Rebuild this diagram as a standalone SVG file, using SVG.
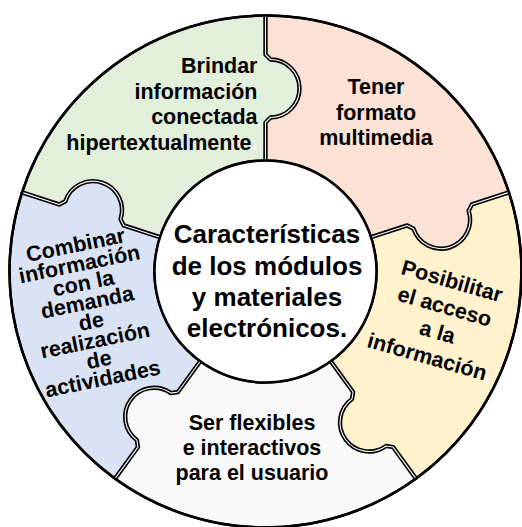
<svg xmlns="http://www.w3.org/2000/svg" width="522" height="527" viewBox="0 0 522 527">
<style>
.piece{stroke:#000;stroke-width:2.5;stroke-linejoin:round}
.seam-b{fill:none;stroke:#000;stroke-width:4.4;stroke-linejoin:round}
.seam-w{fill:none;stroke:#fff;stroke-width:1.1;stroke-linejoin:round}
.t{font-family:"Liberation Sans",Arial,sans-serif;font-weight:bold;fill:#000;font-size:21.5px}
.c{font-size:26px}
.m{text-anchor:middle}
.e{text-anchor:end}
</style>
<rect width="522" height="527" fill="#fff"/>
<g id="green">
<path class="piece" fill="#E2EFDA" d="M265.5,160.5 L265.5,122.5 L270.5,117.5 A29,29 0 0 0 270.5,59.5 L265.5,54.5 L265.5,15.5 A256,256 0 0 0 22.03,192.39 L59.12,204.44 L65.42,201.23 A29,29 0 0 1 120.58,219.16 L123.79,225.46 L159.93,237.2 A111,111 0 0 1 265.5,160.5 Z"/>
<text class="t e" x="257.5"><tspan x="257.5" y="73">Brindar</tspan><tspan x="257.5" y="98.5">información</tspan><tspan x="257.5" y="124">conectada</tspan><tspan x="257.5" y="149.5">hipertextualmente<tspan fill="#fff">.</tspan></tspan></text>
</g>
<g id="pink">
<path class="piece" fill="#FBE2D5" d="M371.07,237.2 L407.21,225.46 L413.51,228.67 A29,29 0 0 0 468.67,210.74 L471.88,204.44 L508.97,192.39 A256,256 0 0 0 265.5,15.5 L265.5,54.5 L270.5,59.5 A29,29 0 0 1 270.5,117.5 L265.5,122.5 L265.5,160.5 A111,111 0 0 1 371.07,237.2 Z"/>
<text class="t m"><tspan x="376" y="94">Tener</tspan><tspan x="376" y="119.5">formato</tspan><tspan x="376" y="145">multimedia</tspan></text>
</g>
<g id="yellow">
<path class="piece" fill="#FFF2CC" d="M330.74,361.3 L353.08,392.04 L351.97,399.03 A29,29 0 0 0 386.07,445.95 L393.05,447.06 L415.97,478.61 A256,256 0 0 0 508.97,192.39 L471.88,204.44 L468.67,210.74 A29,29 0 0 1 413.51,228.67 L407.21,225.46 L371.07,237.2 A111,111 0 0 1 330.74,361.3 Z"/>
<text class="t m" transform="rotate(16 450 288)"><tspan x="450" y="288">Posibilitar</tspan><tspan x="450" y="314.5">el acceso</tspan><tspan x="450" y="341">a la</tspan><tspan x="450" y="367.5">información<tspan fill="#fff">.</tspan></tspan></text>
</g>
<g id="white">
<path class="piece" fill="#F9F9F9" d="M200.26,361.3 L177.92,392.04 L170.94,393.15 A29,29 0 0 0 136.85,440.07 L137.95,447.06 L115.03,478.61 A256,256 0 0 0 415.97,478.61 L393.05,447.06 L386.07,445.95 A29,29 0 0 1 351.97,399.03 L353.08,392.04 L330.74,361.3 A111,111 0 0 1 200.26,361.3 Z"/>
<text class="t m"><tspan x="252" y="430">Ser flexibles</tspan><tspan x="252" y="455">e interactivos</tspan><tspan x="252" y="480">para el usuario</tspan></text>
</g>
<g id="blue">
<path class="piece" fill="#DAE3F3" d="M159.93,237.2 L123.79,225.46 L120.58,219.16 A29,29 0 0 0 65.42,201.23 L59.12,204.44 L22.03,192.39 A256,256 0 0 0 115.03,478.61 L137.95,447.06 L136.85,440.07 A29,29 0 0 1 170.94,393.15 L177.92,392.04 L200.26,361.3 A111,111 0 0 1 159.93,237.2 Z"/>
<text class="t m" transform="rotate(-11.5 77 252)"><tspan x="77" y="252">Combinar</tspan><tspan x="77" y="271.5">información</tspan><tspan x="77" y="291">con la</tspan><tspan x="77" y="310.5">demanda</tspan><tspan x="77" y="330">de</tspan><tspan x="77" y="349.5">realización</tspan><tspan x="77" y="369">de</tspan><tspan x="77" y="388.5">actividades</tspan></text>
</g>
<g id="seams">
<path class="seam-b" d="M265.5,160.5 L265.5,122.5 L270.5,117.5 A29,29 0 0 0 270.5,59.5 L265.5,54.5 L265.5,15.5"/>
<path class="seam-b" d="M371.07,237.2 L407.21,225.46 L413.51,228.67 A29,29 0 0 0 468.67,210.74 L471.88,204.44 L508.97,192.39"/>
<path class="seam-b" d="M330.74,361.3 L353.08,392.04 L351.97,399.03 A29,29 0 0 0 386.07,445.95 L393.05,447.06 L415.97,478.61"/>
<path class="seam-b" d="M200.26,361.3 L177.92,392.04 L170.94,393.15 A29,29 0 0 0 136.85,440.07 L137.95,447.06 L115.03,478.61"/>
<path class="seam-b" d="M159.93,237.2 L123.79,225.46 L120.58,219.16 A29,29 0 0 0 65.42,201.23 L59.12,204.44 L22.03,192.39"/>
<path class="seam-w" d="M265.5,160.5 L265.5,122.5 L270.5,117.5 A29,29 0 0 0 270.5,59.5 L265.5,54.5 L265.5,15.5"/>
<path class="seam-w" d="M371.07,237.2 L407.21,225.46 L413.51,228.67 A29,29 0 0 0 468.67,210.74 L471.88,204.44 L508.97,192.39"/>
<path class="seam-w" d="M330.74,361.3 L353.08,392.04 L351.97,399.03 A29,29 0 0 0 386.07,445.95 L393.05,447.06 L415.97,478.61"/>
<path class="seam-w" d="M200.26,361.3 L177.92,392.04 L170.94,393.15 A29,29 0 0 0 136.85,440.07 L137.95,447.06 L115.03,478.61"/>
<path class="seam-w" d="M159.93,237.2 L123.79,225.46 L120.58,219.16 A29,29 0 0 0 65.42,201.23 L59.12,204.44 L22.03,192.39"/>
</g>
<circle cx="265.5" cy="271.5" r="256" fill="none" stroke="#000" stroke-width="2.5"/>
<g id="center">
<circle cx="265.5" cy="271.5" r="111" fill="#fff" stroke="#000" stroke-width="2.5"/>
<text class="t c m"><tspan x="267" y="243">Características</tspan><tspan x="267" y="275">de los módulos</tspan><tspan x="267" y="306">y materiales</tspan><tspan x="267" y="337">electrónicos.</tspan></text>
</g>
</svg>
